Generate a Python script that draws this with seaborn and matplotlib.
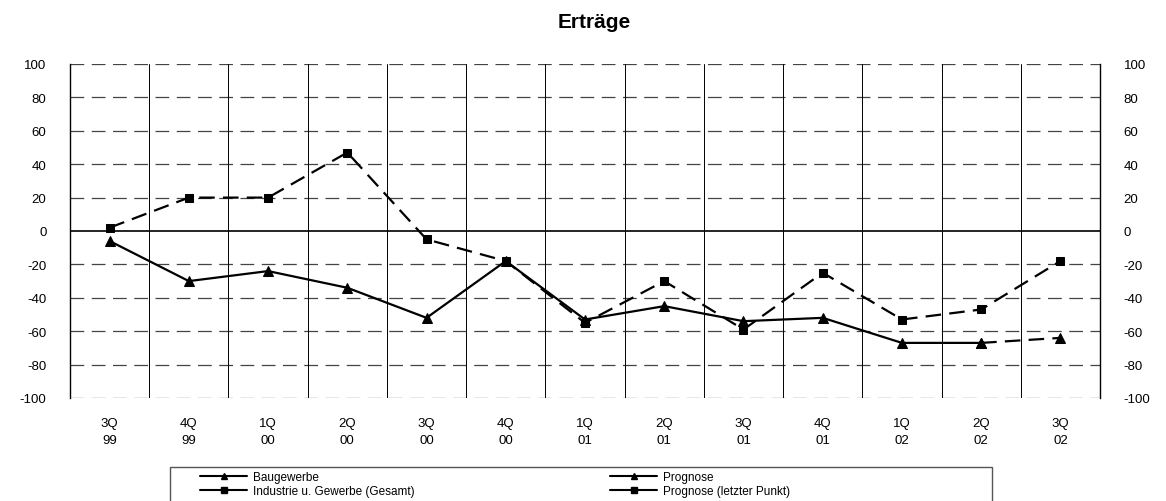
import matplotlib
matplotlib.use("Agg")
import matplotlib.pyplot as plt
from matplotlib.lines import Line2D
from matplotlib.patches import Rectangle
import seaborn as sns
import pandas as pd

quarters = ["3Q\n99", "4Q\n99", "1Q\n00", "2Q\n00", "3Q\n00", "4Q\n00", "1Q\n01",
            "2Q\n01", "3Q\n01", "4Q\n01", "1Q\n02", "2Q\n02", "3Q\n02"]
baugewerbe = [-6, -30, -24, -34, -52, -18, -53, -45, -54, -52, -67, -67]
prognose_bau = [-67, -64]
industrie = [2, 20, 20, 47, -5, -18, -55, -30, -59, -25, -53, -47, -18]
y_ticks = [-100, -80, -60, -40, -20, 0, 20, 40, 60, 80, 100]

sns.set_style("white")
plt.rcParams["font.family"] = ["Liberation Sans", "DejaVu Sans"]
plt.rcParams["text.color"] = "black"
plt.rcParams["xtick.color"] = "black"
plt.rcParams["ytick.color"] = "black"

W, H = 1166, 502
fig = plt.figure(figsize=(W / 100, H / 100), dpi=100)
ax = fig.add_axes([70 / W, 1 - 399 / H, 1030 / W, 334 / H])

n = len(quarters)
idx = list(range(n))

df_bau = pd.DataFrame({"x": idx[:len(baugewerbe)], "y": baugewerbe})
df_prog = pd.DataFrame({"x": idx[len(baugewerbe) - 1:], "y": prognose_bau})
df_ind = pd.DataFrame({"x": idx, "y": industrie})

lw = 1.6
dash = (7, 3.7)
sns.lineplot(data=df_ind, x="x", y="y", ax=ax, color="black", lw=lw,
             marker="s", markersize=6, markeredgecolor="black", zorder=4)
ax.lines[-1].set_dashes(dash)
sns.lineplot(data=df_bau, x="x", y="y", ax=ax, color="black", lw=lw,
             marker="^", markersize=6.5, markeredgecolor="black", zorder=5)
sns.lineplot(data=df_prog, x="x", y="y", ax=ax, color="black", lw=lw,
             marker="^", markersize=6.5, markeredgecolor="black", zorder=5)
ax.lines[-1].set_dashes(dash)

ax.set_xlim(-0.5, n - 0.5)
ax.set_ylim(-100, 100)
ax.set_xlabel("")
ax.set_ylabel("")

# horizontal dashed grid, solid zero line
for v in y_ticks:
    if v == 0:
        ax.axhline(v, color="black", lw=1.2, zorder=2)
    else:
        ax.axhline(v, color="#444444", lw=0.9, dashes=(11, 6), zorder=1)
# solid separators between quarters
for b in range(1, n):
    ax.axvline(b - 0.5, color="black", lw=0.7, zorder=1)

for side in ["top", "bottom"]:
    ax.spines[side].set_visible(False)
for side in ["left", "right"]:
    ax.spines[side].set_visible(True)
    ax.spines[side].set_color("black")
    ax.spines[side].set_linewidth(1.0)

ax.set_yticks(y_ticks)
ax.set_yticklabels([str(v) for v in y_ticks])
ax.tick_params(axis="y", which="both", left=False, right=False,
               labelleft=True, labelright=True, labelsize=9.5)
ax.yaxis.set_tick_params(pad=13.5)
for t in ax.yaxis.get_major_ticks():
    t.label2.set_horizontalalignment("left")
ax.set_xticks(idx)
ax.set_xticklabels(quarters, fontsize=9.5, linespacing=1.55)
ax.tick_params(axis="x", bottom=False, pad=10)

fig.text(594 / W, 1 - 22 / H, "Erträge", ha="center", va="center",
         fontsize=15, fontweight="bold")

# legend frame
fig.patches.append(Rectangle((170 / W, -0.05), (992 - 170) / W, 0.05 + 1 - 468 / H,
                             transform=fig.transFigure, fill=False,
                             edgecolor="#555555", lw=1.0))

def legend_column(entries, x_px):
    handles = [Line2D([], [], color="black", lw=1.5, marker=m, markersize=5)
               for m, _ in entries]
    labels = [t for _, t in entries]
    lg = fig.legend(handles, labels, loc="upper left",
                    bbox_to_anchor=(x_px / W, 1 - 472 / H),
                    frameon=False, fontsize=8.5, labelspacing=0.2,
                    handlelength=4.0, handletextpad=0.45, borderpad=0,
                    borderaxespad=0)
    return lg

legend_column([("^", "Baugewerbe"), ("s", "Industrie u. Gewerbe (Gesamt)")], 200)
legend_column([("^", "Prognose"), ("s", "Prognose (letzter Punkt)")], 610)

fig.savefig("out.png", dpi=100)
